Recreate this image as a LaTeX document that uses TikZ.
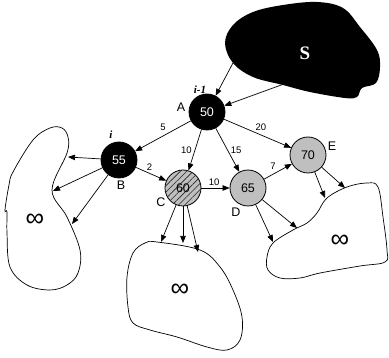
\documentclass[tikz,border=0pt]{standalone}
\usepackage{fontspec}
\setmainfont{Liberation Sans}
\newfontfamily\tnr{Liberation Serif}
\usetikzlibrary{arrows.meta,patterns.meta}
\begin{document}
\begin{tikzpicture}[x=1pt,y=-1pt,
  every node/.style={inner sep=0pt},
  vert/.style={circle,draw=black,line width=0.8pt,minimum size=36pt,font=\fontsize{12.5}{12.5}\selectfont},
  blk/.style={vert,fill=black,text=white},
  gry/.style={vert,fill=gray!50},
  lbl/.style={font=\fontsize{12.5}{12.5}\selectfont},
  wlbl/.style={font=\fontsize{9.5}{9.5}\selectfont},
  arr/.style={-{Triangle[length=7pt,width=5.5pt]},line width=0.7pt},
  blob/.style={draw=black,line width=0.7pt},
  inf/.style={font=\fontsize{26}{26}\selectfont},
]
\useasboundingbox (0,0) rectangle (389,358);

% S blob
\fill[black] plot[smooth cycle,tension=0.6] coordinates {(225,43) (233,25) (253,12) (283,5) (317,2) (343,8) (360,27) (377,50) (380,67) (376,83) (362,88) (357,97) (345,98) (310,92) (283,85) (253,77) (233,63)};
\node[text=white,font=\tnr\bfseries\fontsize{19}{19}\selectfont] (S) at (305,53) {S};
\coordinate (s1) at (233,63);
\coordinate (s2) at (284,84);

% left blob
\draw[blob] plot[smooth cycle,tension=0.6] coordinates {(13,172) (33,140) (50,128) (62,128) (68,137) (67,153) (52,190) (67,217) (80,250) (78,273) (67,285) (50,290) (27,285) (10,267) (7,233) (7,212) (5,210) (9,185)};
\node[inf] (infL) at (35,220) {∞};

% bottom blob
\draw[blob] plot[smooth cycle,tension=0.6] coordinates {(157,242) (200,250) (220,267) (233,290) (242,317) (240,340) (227,350) (207,347) (177,337) (150,330) (133,323) (128,307) (127,277) (133,253) (145,243)};
\node[inf] (infC) at (180,290) {∞};

% right blob
\draw[blob] plot[smooth cycle,tension=0.6] coordinates {(327,198) (347,187) (367,183) (378,187) (383,217) (387,250) (385,262) (360,266) (320,273) (300,278) (280,278) (268,270) (267,257) (273,243) (293,230) (307,223) (317,213)};
\node[inf] (infR) at (340,241) {∞};

% vertices
\node[blk] (A) at (207,112) {50};
\node[blk] (B) at (119,160) {55};
\node[gry,postaction={pattern={Lines[angle=45,distance=4.5pt,line width=0.6pt]},pattern color=gray!30!black}] (C) at (183,188) {60};
\node[gry] (D) at (248,188) {65};
\node[gry] (E) at (308,155) {70};

% vertex labels
\node[lbl] (la) at (181,107) {A};
\node[lbl] (lb) at (121,185) {B};
\node[lbl] (lc) at (161,202) {C};
\node[lbl] (ld) at (236,212) {D};
\node[lbl] (le) at (332,146) {E};
\node[font=\tnr\bfseries\itshape\fontsize{11}{11}\selectfont] (im1) at (200,90) {i-1};
\node[font=\tnr\bfseries\itshape\fontsize{11}{11}\selectfont] (ii) at (111,135) {i};

% S to A
\draw[arr] (s1) -- (A);
\draw[arr] (s2) -- (A);

% weighted edges
\draw[arr] (A) -- (B) node[wlbl,pos=0.5,above=5pt] {5};
\draw[arr] (A) -- (E) node[wlbl,pos=0.55,above=4pt] {20};
\draw[arr] (A) -- (C) node[wlbl,pos=0.5,left=3pt] {10};
\draw[arr] (A) -- (D) node[wlbl,pos=0.5,right=3pt] {15};
\draw[arr] (B) -- (C) node[wlbl,pos=0.45,above=2.5pt] {2};
\draw[arr] (C) -- (D) node[wlbl,pos=0.45,above=2.5pt] {10};
\draw[arr] (D) -- (E) node[wlbl,pos=0.5,above left=2pt] {7};

% to blobs
\coordinate (bl1) at (68,157);
\coordinate (bl2) at (53,191);
\coordinate (bl3) at (72,224);
\draw[arr] (B) -- (bl1);
\draw[arr] (B) -- (bl2);
\draw[arr] (B) -- (bl3);
\coordinate (cb1) at (161,242);
\coordinate (cb2) at (183,243);
\coordinate (cb3) at (198,252);
\draw[arr] (C) -- (cb1);
\draw[arr] (C) -- (cb2);
\draw[arr] (C) -- (cb3);
\coordinate (dr1) at (273,242);
\coordinate (dr2) at (297,228);
\draw[arr] (D) -- (dr1);
\draw[arr] (D) -- (dr2);
\coordinate (er1) at (325,198);
\coordinate (er2) at (345,188);
\draw[arr] (E) -- (er1);
\draw[arr] (E) -- (er2);
\end{tikzpicture}
\end{document}
